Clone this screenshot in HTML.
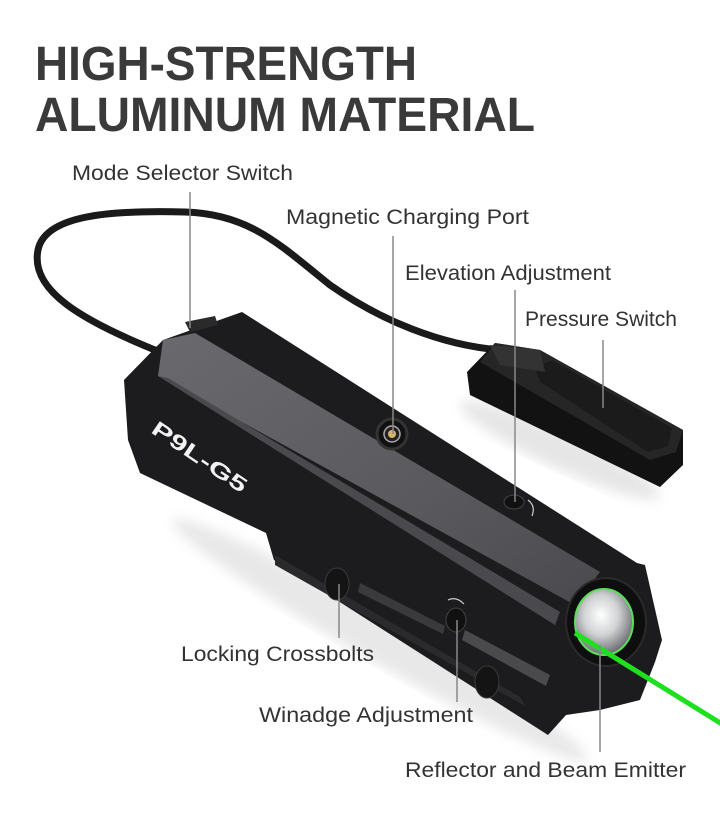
<!DOCTYPE html>
<html><head><meta charset="utf-8"><style>
html,body{margin:0;padding:0;background:#fff;width:720px;height:823px;overflow:hidden}
svg{display:block}
text{font-family:"Liberation Sans",sans-serif;fill:#333}
</style></head><body>
<svg width="720" height="823" viewBox="0 0 720 823">
<defs>
<linearGradient id="tf" x1="0" y1="0" x2="1" y2="1">
<stop offset="0" stop-color="#6a6a6e"/><stop offset="0.6" stop-color="#5a5a5e"/><stop offset="1" stop-color="#4a4a4e"/>
</linearGradient>
<radialGradient id="lens" cx="0.45" cy="0.4" r="0.6">
<stop offset="0" stop-color="#ffffff"/><stop offset="0.5" stop-color="#d0d2d4"/><stop offset="1" stop-color="#6a6c70"/>
</radialGradient>
<filter id="sh"><feGaussianBlur stdDeviation="6"/></filter>
</defs>
<text x="35" y="80" font-size="48" font-weight="bold" textLength="382" lengthAdjust="spacingAndGlyphs" style="fill:#3a3a3a">HIGH-STRENGTH</text>
<text x="35" y="131" font-size="48" font-weight="bold" textLength="500" lengthAdjust="spacingAndGlyphs" style="fill:#3a3a3a">ALUMINUM MATERIAL</text>

<!-- shadows -->
<ellipse cx="560" cy="450" rx="110" ry="18" fill="#e6e6e6" filter="url(#sh)" transform="rotate(25 560 450)"/>
<ellipse cx="380" cy="640" rx="240" ry="22" fill="#e8e8e8" filter="url(#sh)" transform="rotate(30 380 640)"/>

<!-- cable -->
<path d="M160,352 C80,320 30,290 38,250 C45,215 110,210 185,212 C250,214 280,245 330,285 C380,320 440,345 500,350" fill="none" stroke="#1a1a1a" stroke-width="7" stroke-linecap="round"/>

<!-- pressure switch -->
<polygon points="467,372 495,343 540,350 683,430 683,465 660,487 470,395" fill="#121212"/>
<polygon points="480,362 495,343 540,350 683,430 676,452 650,460" fill="#262626"/>
<polygon points="535,368 552,360 672,428 668,446 648,452 540,382" fill="#1b1b1b"/>
<polygon points="490,345 540,350 545,372 500,365" fill="#333"/>

<!-- body -->
<polygon points="242,312 637,563 645,565 662,640 655,662 640,700 600,710 566,715 548,735 274,560 266,533 140,473 128,440 124,380 163,340" fill="#1c1c1e"/>
<polygon points="163,340 195,333 600,572 575,605 158,376" fill="url(#tf)"/>
<polygon points="158,376 168,378 560,612 555,625" fill="#4a4a4e"/>
<polygon points="274,560 548,735" fill="none"/>
<polygon points="275,555 520,697 525,706 275,565" fill="#2a2a2c"/>
<polygon points="465,630 550,675 546,686 462,640" fill="#4a4a4d"/>
<polygon points="360,583 445,626 443,634 358,592" fill="#3a3a3c"/>
<polygon points="185,322 215,316 218,325 190,332" fill="#2a2a2a"/>

<text x="0" y="0" font-size="21" font-weight="bold" style="fill:#f2f2f2" transform="translate(150,432) rotate(34)" textLength="110" lengthAdjust="spacingAndGlyphs">P9L-G5</text>

<!-- charging port -->
<circle cx="392" cy="434" r="15" fill="#111" stroke="#333" stroke-width="3"/>
<circle cx="392" cy="434" r="8" fill="#222" stroke="#aaa" stroke-width="1.5"/>
<circle cx="392" cy="434" r="4" fill="#d8b36a"/>
<!-- elevation -->
<ellipse cx="514" cy="502" rx="10" ry="7" fill="#111" stroke="#444"/>
<path d="M528,500 q8,6 4,16" fill="none" stroke="#ccc" stroke-width="1.2"/>
<!-- crossbolts -->
<ellipse cx="337" cy="584" rx="12" ry="16" fill="#141414" stroke="#3a3a3a"/>
<ellipse cx="487" cy="682" rx="12" ry="16" fill="#141414" stroke="#3a3a3a"/>
<ellipse cx="456" cy="620" rx="10" ry="12" fill="#111" stroke="#444"/>
<path d="M448,600 q8,-4 16,4" fill="none" stroke="#ccc" stroke-width="1.2"/>

<!-- lens -->
<ellipse cx="606" cy="622" rx="40" ry="44" fill="#0e0e0e" stroke="#2a2a2a" stroke-width="2"/>
<ellipse cx="604" cy="622" rx="29" ry="33" fill="url(#lens)" stroke="#5adf5a" stroke-width="2"/>
<!-- laser -->
<line x1="575" y1="633" x2="722" y2="724" stroke="#1fe01f" stroke-width="5"/>

<!-- leader lines -->
<g stroke="#888" stroke-width="1.5">
<line x1="190" y1="192" x2="190" y2="328"/>
<line x1="393" y1="236" x2="393" y2="434"/>
<line x1="515" y1="290" x2="515" y2="502"/>
<line x1="603" y1="340" x2="603" y2="408"/>
<line x1="339" y1="584" x2="339" y2="638"/>
<line x1="457" y1="620" x2="457" y2="702"/>
<line x1="600" y1="645" x2="600" y2="752"/>
</g>

<g font-size="21">
<text x="72" y="180" textLength="221" lengthAdjust="spacingAndGlyphs">Mode Selector Switch</text>
<text x="286" y="224" textLength="243" lengthAdjust="spacingAndGlyphs">Magnetic Charging Port</text>
<text x="405" y="280" textLength="206" lengthAdjust="spacingAndGlyphs">Elevation Adjustment</text>
<text x="525" y="326" textLength="152" lengthAdjust="spacingAndGlyphs">Pressure Switch</text>
<text x="181" y="661" textLength="193" lengthAdjust="spacingAndGlyphs">Locking Crossbolts</text>
<text x="259" y="722" textLength="214" lengthAdjust="spacingAndGlyphs">Winadge Adjustment</text>
<text x="405" y="777" textLength="281" lengthAdjust="spacingAndGlyphs">Reflector and Beam Emitter</text>
</g>
</svg>
</body></html>
